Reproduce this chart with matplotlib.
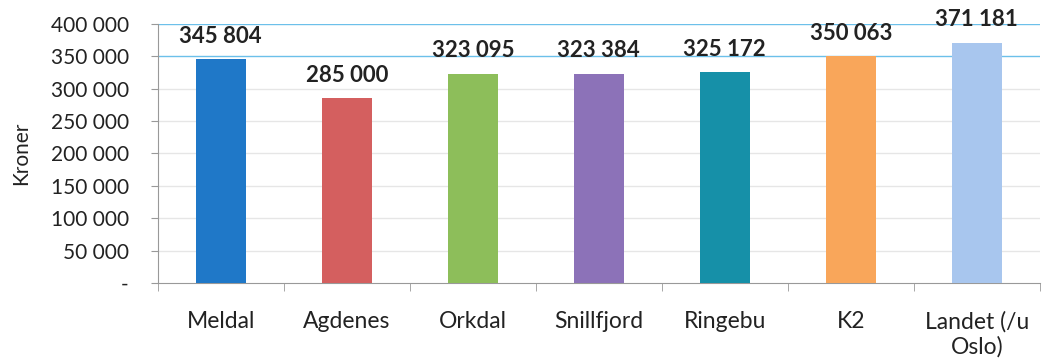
#!/usr/bin/env python3

import matplotlib
matplotlib.use("Agg")
import matplotlib.pyplot as plt
from matplotlib.ticker import FuncFormatter

CATEGORIES = ["Meldal", "Agdenes", "Orkdal", "Snillfjord", "Ringebu", "K2", "Landet (/u\nOslo)"]
VALUES = [345804, 285000, 323095, 323384, 325172, 350063, 371181]
COLOURS = ["#1F78C8", "#D45F5F", "#8DBE5A", "#8C72B8", "#1690A8", "#F9A65A", "#A8C6EE"]

Y_TICKS = [0, 50000, 100000, 150000, 200000, 250000, 300000, 350000, 400000]

plt.rcParams['font.family'] = ['Lato', 'DejaVu Sans']


def fmt(v, pos=None):
    """Norwegian style thousands with a space, zero shown as a dash"""
    if v == 0:
        return "-"
    return f"{int(v):,}".replace(",", " ")


def main():
    fig = plt.figure(figsize=(10.45, 3.62), dpi=100)
    ax = fig.add_axes([0.151, 0.218, 0.844, 0.716])

    x = list(range(len(CATEGORIES)))
    ax.bar(x, VALUES, width=0.4, color=COLOURS, zorder=3)

    for xi, v in zip(x, VALUES):
        ax.annotate(fmt(v), (xi, v), xytext=(0, 9), textcoords="offset points",
                    ha="center", va="bottom", fontsize=16, fontweight="bold", color="#222222")

    ax.set_xlim(-0.5, len(CATEGORIES) - 0.5)
    ax.set_ylim(0, 400000)
    ax.set_yticks(Y_TICKS)
    ax.yaxis.set_major_formatter(FuncFormatter(fmt))
    ax.tick_params(axis="y", labelsize=15, colors="#222222", length=5, color="#999999", pad=16)

    # grid: top two lines come out blue in the source, the rest pale gray
    for t in Y_TICKS[1:]:
        c = "#6CC0EA" if t >= 350000 else "#E6E6E6"
        ax.axhline(t, color=c, lw=1.0, zorder=1)

    ax.set_xticks(x)
    ax.set_xticklabels(CATEGORIES, fontsize=16.5, color="#222222")
    ax.tick_params(axis="x", length=0, pad=20)
    ax.set_xticks([i - 0.5 for i in range(len(CATEGORIES) + 1)], minor=True)
    ax.tick_params(axis="x", which="minor", length=6, color="#999999")

    for s in ["top", "right"]:
        ax.spines[s].set_visible(False)
    for s in ["left", "bottom"]:
        ax.spines[s].set_color("#999999")

    ax.set_ylabel("Kroner", fontsize=15, color="#222222", labelpad=14)

    fig.savefig("out.png", dpi=100)


if __name__ == '__main__':
    main()
